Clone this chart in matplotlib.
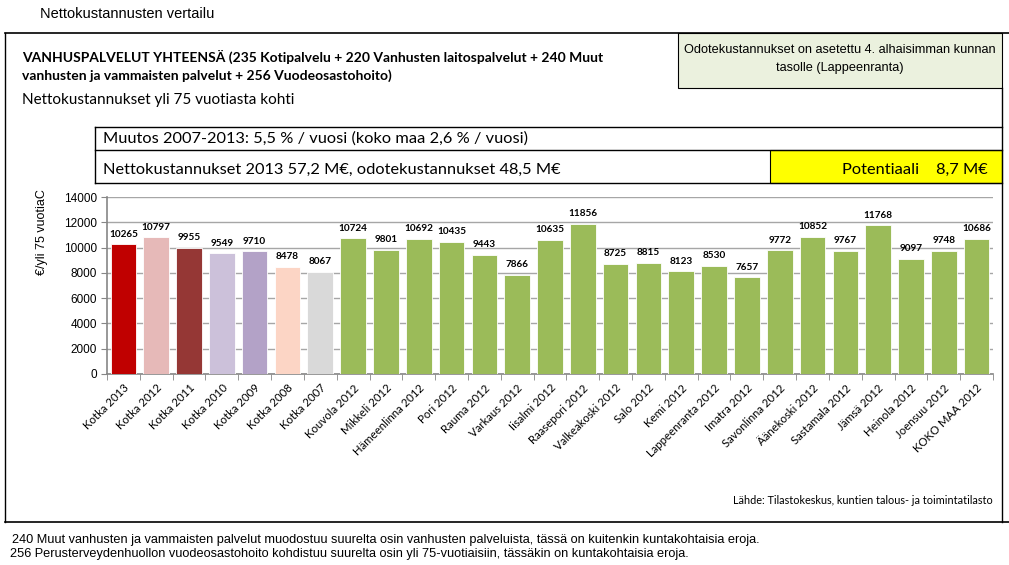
import matplotlib
matplotlib.use("Agg")
import matplotlib.pyplot as plt
import numpy as np
from matplotlib.lines import Line2D
from matplotlib.patches import Rectangle

# ---------------- data ----------------
categories = ["Kotka 2013", "Kotka 2012", "Kotka 2011", "Kotka 2010", "Kotka 2009",
              "Kotka 2008", "Kotka 2007", "Kouvola 2012", "Mikkeli 2012",
              "Hämeenlinna 2012", "Pori 2012", "Rauma 2012", "Varkaus 2012",
              "Iisalmi 2012", "Raasepori 2012", "Valkeakoski 2012", "Salo 2012",
              "Kemi 2012", "Lappeenranta 2012", "Imatra 2012", "Savonlinna 2012",
              "Äänekoski 2012", "Sastamala 2012", "Jämsä 2012", "Heinola 2012",
              "Joensuu 2012", "KOKO MAA 2012"]
values = [10265, 10797, 9955, 9549, 9710, 8478, 8067, 10724, 9801, 10692, 10435,
          9443, 7866, 10635, 11856, 8725, 8815, 8123, 8530, 7657, 9772, 10852,
          9767, 11768, 9097, 9748, 10686]
kotka_colors = ["#C00000", "#E6B9B8", "#953735", "#CCC1DA", "#B3A2C7", "#FCD5C5", "#D9D9D9"]
green = "#9BBB59"
yticks = [0, 2000, 4000, 6000, 8000, 10000, 12000, 14000]

W, H = 1009, 565
fig = plt.figure(figsize=(W / 100, H / 100), dpi=100)
fig.patch.set_facecolor("white")

def fx(x):
    return x / W

def fy(y):
    return 1 - y / H

CAL = ["Lato", "DejaVu Sans"]
ARI = ["Liberation Sans", "DejaVu Sans"]
NAR = ["Liberation Sans Narrow", "Liberation Sans", "DejaVu Sans"]

def hline(x0, x1, y, lw=1.0, color="black"):
    fig.add_artist(Line2D([fx(x0), fx(x1)], [fy(y), fy(y)], color=color, lw=lw,
                          transform=fig.transFigure))

def vline(x, y0, y1, lw=1.0, color="black"):
    fig.add_artist(Line2D([fx(x), fx(x)], [fy(y0), fy(y1)], color=color, lw=lw,
                          transform=fig.transFigure))

def rect(x0, y0, x1, y1, fc, ec="black", lw=0.8):
    fig.add_artist(Rectangle((fx(x0), fy(y1)), fx(x1) - fx(x0), fy(y0) - fy(y1),
                             facecolor=fc, edgecolor=ec, lw=lw, transform=fig.transFigure))

# ------------- frame / boxes -------------
fig.text(fx(40), fy(14), "Nettokustannusten vertailu", family=ARI, fontsize=10.5,
         va="center", ha="left")
hline(5, 1009, 33, lw=1.2)
vline(5, 33, 522, lw=1.0)
hline(5, 1009, 522, lw=1.2)
vline(1002, 88, 522, lw=1.0)

rect(678, 33, 1002, 88, "#EBF1DE")
fig.text(fx(840), fy(50), "Odotekustannukset on asetettu 4. alhaisimman kunnan",
         family=NAR, fontsize=9.2, ha="center", va="center")
fig.text(fx(840), fy(68), "tasolle (Lappeenranta)", family=NAR, fontsize=9.2,
         ha="center", va="center")

fig.text(fx(22), fy(57),
         "VANHUSPALVELUT YHTEENSÄ (235 Kotipalvelu + 220 Vanhusten laitospalvelut + 240 Muut",
         family=CAL, fontsize=10, fontweight="bold", ha="left", va="center")
fig.text(fx(22), fy(76), "vanhusten ja vammaisten palvelut + 256 Vuodeosastohoito)",
         family=CAL, fontsize=10, fontweight="bold", ha="left", va="center")
fig.text(fx(22), fy(100), "Nettokustannukset yli 75 vuotiasta kohti", family=CAL,
         fontsize=11, ha="left", va="center")

rect(770, 150, 1002, 183, "#FFFF00", lw=0.8)
hline(95, 1002, 127, lw=1.0)
hline(95, 1002, 150, lw=1.0)
hline(95, 1002, 183, lw=1.0)
vline(95, 127, 183, lw=1.0)
fig.text(fx(103), fy(139), "Muutos 2007-2013: 5,5 % / vuosi (koko maa 2,6 % / vuosi)",
         family=CAL, fontsize=11.8, ha="left", va="center")
fig.text(fx(103), fy(170), "Nettokustannukset 2013 57,2 M€, odotekustannukset 48,5 M€",
         family=CAL, fontsize=11.8, ha="left", va="center")
fig.text(fx(988), fy(170), "Potentiaali    8,7 M€", family=CAL, fontsize=11.8,
         ha="right", va="center")

# ------------- chart -------------
ax = fig.add_axes([fx(107), fy(374), fx(993) - fx(107), fy(197) - fy(374)])
n = len(categories)
x = np.arange(n)
colors = kotka_colors + [green] * (n - len(kotka_colors))
ax.bar(x, values, width=0.78, color=colors, edgecolor="white", linewidth=0.6, zorder=3)
for xi, v in zip(x, values):
    ax.text(xi, v + 450, str(v), ha="center", va="bottom", fontsize=7.2,
            family=CAL, fontweight="bold", zorder=4)

ax.set_xlim(-0.5, n - 0.5)
ax.set_ylim(0, 14000)
ax.set_yticks(yticks)
ax.set_yticklabels([str(t) for t in yticks], family=ARI, fontsize=8.5)
ax.yaxis.grid(True, color="#A6A6A6", lw=1.0, zorder=0)
ax.set_axisbelow(True)
for s in ["top", "right"]:
    ax.spines[s].set_visible(False)
for s in ["left", "bottom"]:
    ax.spines[s].set_color("#868686")
    ax.spines[s].set_linewidth(1.2)
ax.tick_params(axis="y", length=4, color="#868686", pad=3)
ax.set_xticks(x)
ax.set_xticklabels(categories, rotation=45, ha="right", rotation_mode="anchor",
                   family=CAL, fontsize=8.2)
ax.tick_params(axis="x", length=0, pad=6)
ax.set_xticks(np.arange(n + 1) - 0.5, minor=True)
ax.tick_params(axis="x", which="minor", length=4, color="#868686")
ax.patch.set_alpha(0)

fig.text(fx(42), fy(232), "€/yli 75 vuotiaC", family=ARI, fontsize=9, rotation=90,
         ha="center", va="center")

fig.text(fx(993), fy(501), "Lähde: Tilastokeskus, kuntien talous- ja toimintatilasto",
         family=CAL, fontsize=7.8, ha="right", va="center")

fig.text(fx(12), fy(540),
         "240 Muut vanhusten ja vammaisten palvelut muodostuu suurelta osin vanhusten palveluista, tässä on kuitenkin kuntakohtaisia eroja.",
         family=NAR, fontsize=9.2, ha="left", va="center")
fig.text(fx(10), fy(554),
         "256 Perusterveydenhuollon vuodeosastohoito kohdistuu suurelta osin yli 75-vuotiaisiin, tässäkin on kuntakohtaisia eroja.",
         family=NAR, fontsize=9.2, ha="left", va="center")

fig.savefig("out.png", dpi=100, facecolor="white")
